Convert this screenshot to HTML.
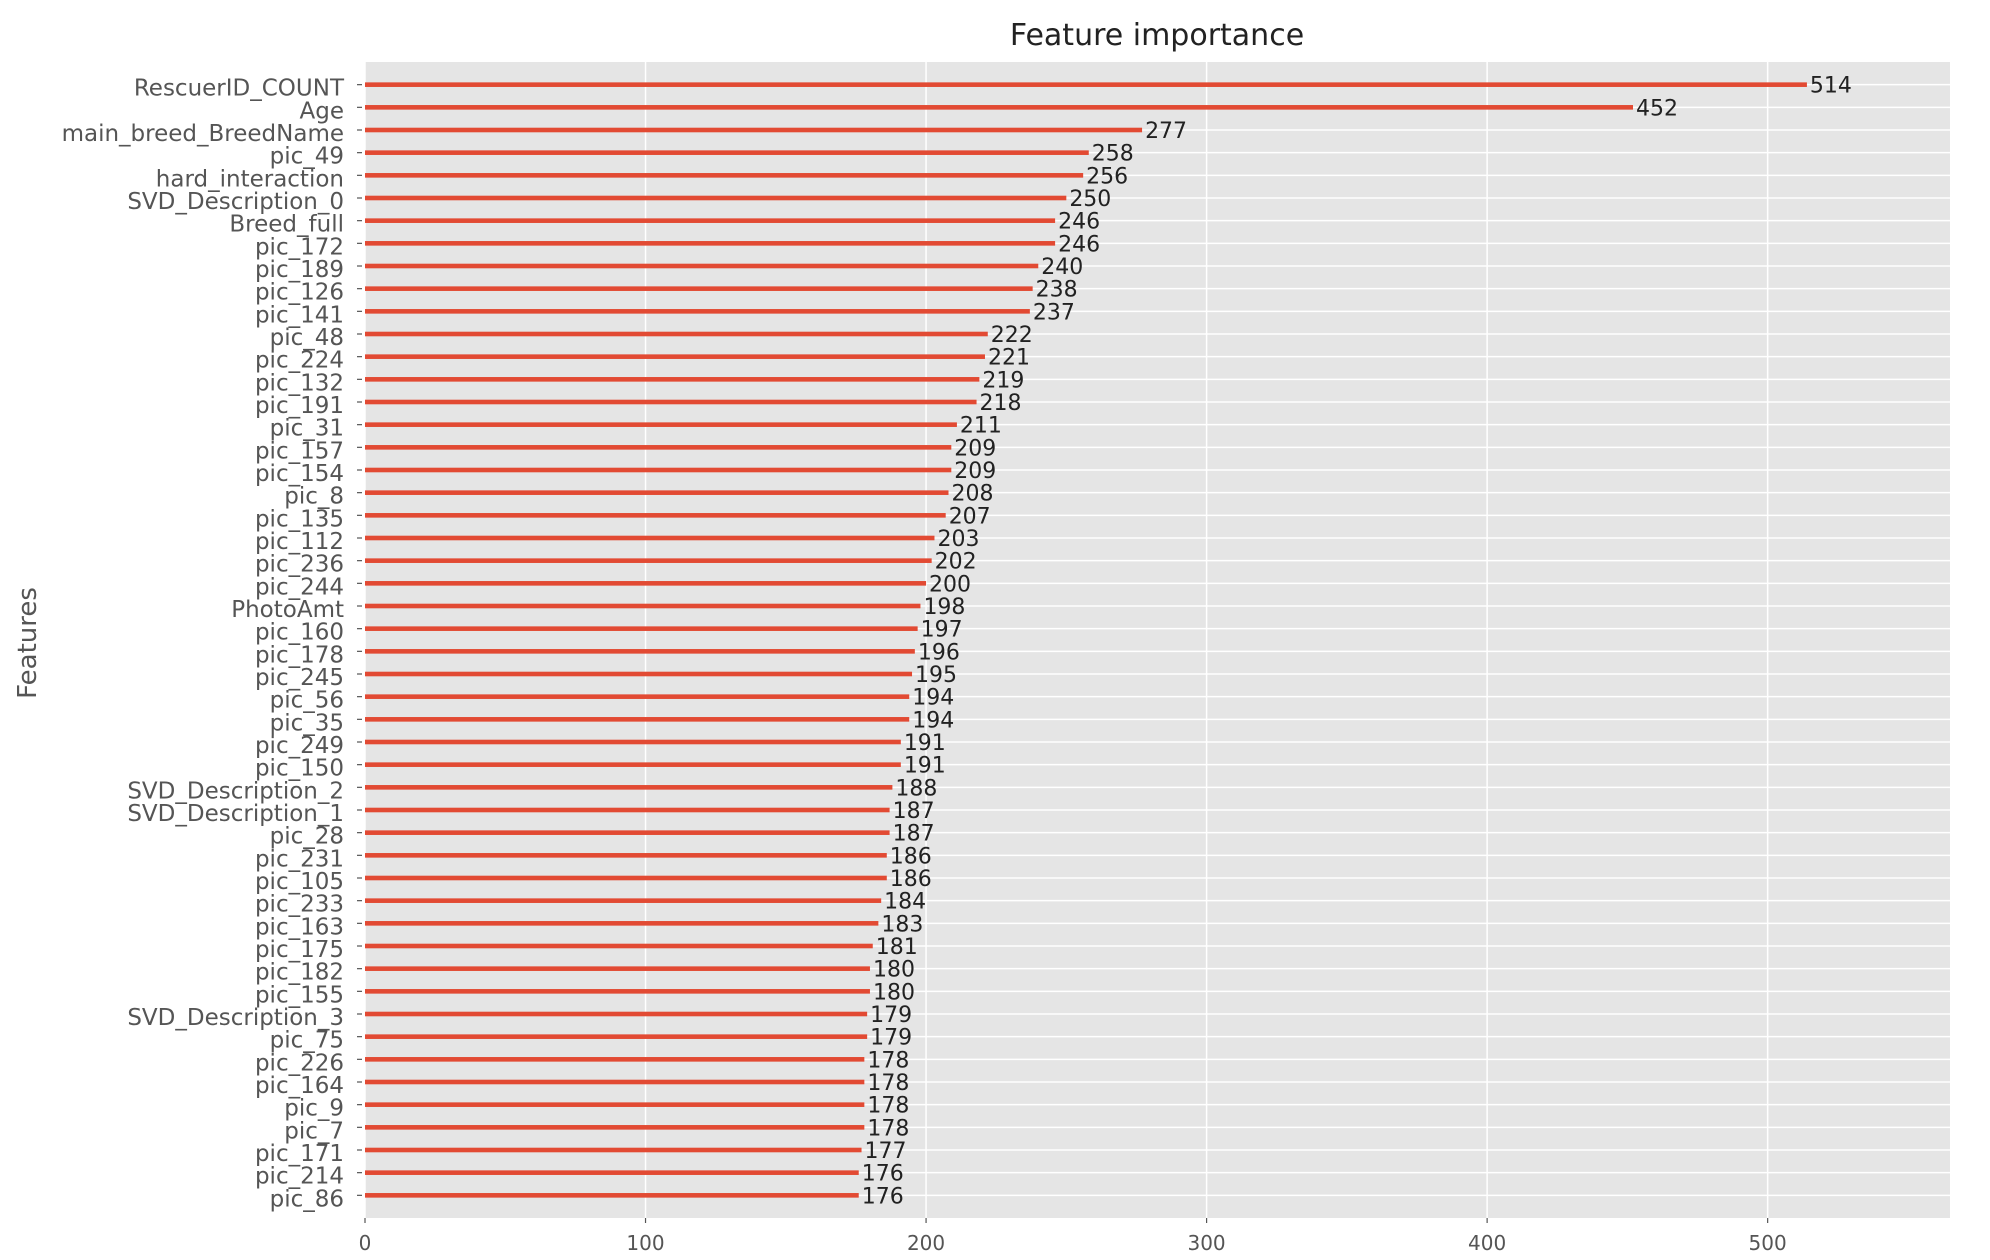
<!DOCTYPE html>
<html><head><meta charset="utf-8"><style>
html,body{margin:0;padding:0;background:#fff;}
svg{display:block;}
text{font-family:"DejaVu Sans","Liberation Sans",sans-serif;}
</style></head><body>
<svg id="chart" width="1990" height="1260" viewBox="0 0 1990 1260">
<rect x="365" y="62" width="1585" height="1156" fill="#e5e5e5"/>
<g id="grid"></g><g id="bars"></g><g id="ylabels"></g><g id="xticks"></g>
<text x="1157" y="45" text-anchor="middle" font-size="30" fill="#222">Feature importance</text>
<text x="0" y="0" transform="translate(36,643) rotate(-90)" text-anchor="middle" font-size="26" fill="#555">Features</text>
</svg>
<script>
const features = ["RescuerID_COUNT","Age","main_breed_BreedName","pic_49","hard_interaction","SVD_Description_0","Breed_full","pic_172","pic_189","pic_126","pic_141","pic_48","pic_224","pic_132","pic_191","pic_31","pic_157","pic_154","pic_8","pic_135","pic_112","pic_236","pic_244","PhotoAmt","pic_160","pic_178","pic_245","pic_56","pic_35","pic_249","pic_150","SVD_Description_2","SVD_Description_1","pic_28","pic_231","pic_105","pic_233","pic_163","pic_175","pic_182","pic_155","SVD_Description_3","pic_75","pic_226","pic_164","pic_9","pic_7","pic_171","pic_214","pic_86"];
const importance = [514,452,277,258,256,250,246,246,240,238,237,222,221,219,218,211,209,209,208,207,203,202,200,198,197,196,195,194,194,191,191,188,187,187,186,186,184,183,181,180,180,179,179,178,178,178,178,177,176,176];
const xTicks = [0,100,200,300,400,500];

const NS="http://www.w3.org/2000/svg";
const L=365,R=1950,T=62,B=1218,XMAX=565;
const n=features.length;
function xs(v){return L+v/XMAX*(R-L);}
function ys(i){const u=(B-T)/(n+1);return T+u*(i+1);}
function mk(tag,attrs,parent){const e=document.createElementNS(NS,tag);for(const k in attrs)e.setAttribute(k,attrs[k]);parent.appendChild(e);return e;}
const grid=document.getElementById('grid'),bars=document.getElementById('bars'),yl=document.getElementById('ylabels'),xt=document.getElementById('xticks');
xTicks.forEach(t=>{
  const g=mk('line',{x1:xs(t),x2:xs(t),y1:T,y2:B,stroke:'#fff','stroke-width':1.5},grid);
  
  
  const tk=mk('line',{x1:xs(t),x2:xs(t),y1:B,y2:B+5,stroke:'#555','stroke-width':1.2},xt);
  
  
  const tl=mk('text',{x:xs(t),y:B+32,'text-anchor':'middle','font-size':20,fill:'#555'},xt);
  tl.textContent=t;
  
  
});
features.forEach((f,i)=>{
  const y=ys(i);
  const g=mk('line',{x1:L,x2:R,y1:y,y2:y,stroke:'#fff','stroke-width':1.5},grid);
  
  
  const b=mk('rect',{x:L,y:y-2.3,width:xs(importance[i])-L,height:4.6,fill:'#e24a33'},bars);
  
  
  const v=mk('text',{x:xs(importance[i])+3,y:y+8,'font-size':22,fill:'#222'},bars);
  v.textContent=importance[i];
  
  
  const tk=mk('line',{x1:L-8,x2:L-3,y1:y,y2:y,stroke:'#555','stroke-width':1.2},yl);
  
  
  const t=mk('text',{x:344,y:y+11,'text-anchor':'end','font-size':23,fill:'#555'},yl);
  t.textContent=f;
  
  
});
</script>
</body></html>
